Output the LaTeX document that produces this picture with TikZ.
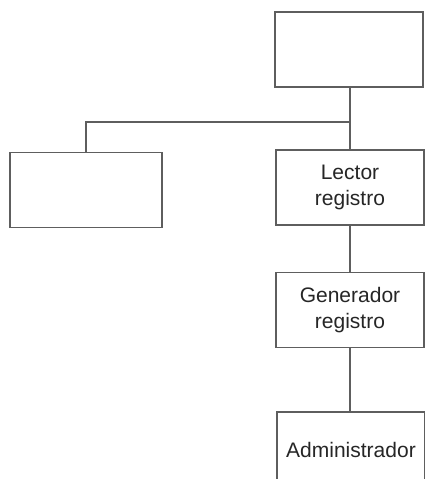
\documentclass[tikz,border=0pt]{standalone}
\usepackage{fontspec}
\setmainfont{Liberation Sans}
\definecolor{edgegray}{HTML}{5E5E5E}
\definecolor{textgray}{HTML}{262626}
\begin{document}
\begin{tikzpicture}[x=1pt,y=-1pt,
  unit/.style={draw=edgegray, line width=1.2pt, fill=white, rectangle,
    minimum width=148pt, minimum height=75pt, inner sep=0pt,
    align=center, text=textgray, font=\fontsize{21}{26}\selectfont},
  link/.style={draw=edgegray, line width=1.2pt}]
  \clip (0,0) rectangle (425,479);
  \fill[white] (0,0) rectangle (425,479);

  % boxes of the hierarchy
  \node[unit] (root)  at (349,49.5)  {};
  \node[unit, minimum width=152pt] (side) at (86,190) {};
  \node[unit] (lector) at (350,187.5) {Lector\\registro};
  \node[unit] (gen)    at (350,310)   {Generador\\registro};
  \node[unit] (admin)  at (351,449.5) {Administrador};

  % branch point under the root box
  \coordinate (branch) at (350,122);

  % connectors
  \draw[link] (root.south -| branch) -- (lector.north -| branch);
  \draw[link] (side.north) |- (branch);
  \draw[link] (lector.south) -- (gen.north);
  \draw[link] (gen.south) -- (admin.north -| gen.south);
\end{tikzpicture}
\end{document}
